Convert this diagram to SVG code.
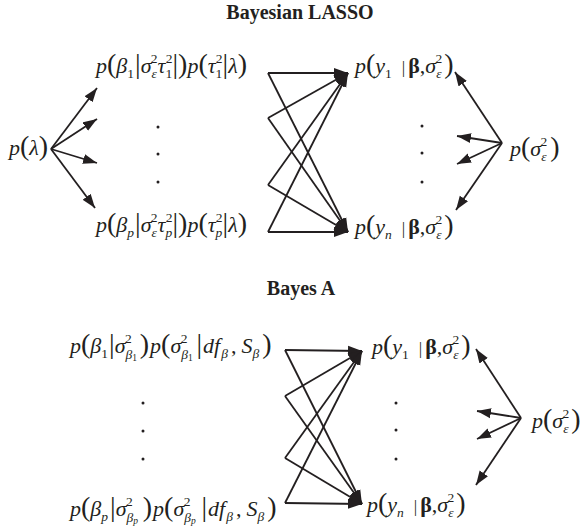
<svg xmlns="http://www.w3.org/2000/svg" width="583" height="530" viewBox="0 0 583 530">
<defs>
<marker id="ah" markerUnits="userSpaceOnUse" markerWidth="15" markerHeight="11" refX="14" refY="5.5" orient="auto"><path d="M0,0.5 L14,5.5 L0,10.5 z" fill="#231f20"/></marker>
</defs>
<style>
.m{font-family:"Liberation Serif","Times New Roman",serif;font-size:22px;fill:#231f20}
.i{font-style:italic}
.s{font-size:13.5px}
.ss{font-size:9.5px}
.P{font-size:28px;font-style:normal}
.bar{font-size:17px}
.b{font-weight:bold}
.t{font-family:"Liberation Serif","Times New Roman",serif;font-weight:bold;font-size:20px;text-anchor:middle;fill:#231f20}
.c line{stroke:#231f20;stroke-width:1.8;marker-end:url(#ah)}
.d circle{fill:#231f20}
</style>
<rect width="583" height="530" fill="#ffffff"/>
<g id="titles">
<text class="t" x="300" y="19">Bayesian LASSO</text>
<text class="t" x="301" y="295">Bayes A</text>
</g>
<g id="lasso-lambda"><text class="m" x="9" y="155"><tspan class="i">p</tspan><tspan class="P">(</tspan><tspan class="i">λ</tspan><tspan class="P">)</tspan></text></g>
<g id="lasso-beta1"><text class="m" x="96" y="73"><tspan class="i">p</tspan><tspan class="P">(</tspan><tspan class="i">β</tspan><tspan class="s" dy="5">1</tspan><tspan class="P" dx="1" dy="-5">|</tspan><tspan class="i">σ</tspan><tspan class="s i" dy="5">ε</tspan><tspan class="s" dx="-6" dy="-15">2</tspan><tspan class="i" dy="10">τ</tspan><tspan class="s" dy="5">1</tspan><tspan class="s" dx="-6.5" dy="-15">2</tspan><tspan class="P" dy="10">|</tspan><tspan class="P">)</tspan><tspan class="i">p</tspan><tspan class="P">(</tspan><tspan class="i">τ</tspan><tspan class="s" dy="5">1</tspan><tspan class="s" dx="-6.5" dy="-15">2</tspan><tspan class="P" dy="10">|</tspan><tspan class="i">λ</tspan><tspan class="P">)</tspan></text></g>
<g id="lasso-betap"><text class="m" x="96" y="232"><tspan class="i">p</tspan><tspan class="P">(</tspan><tspan class="i">β</tspan><tspan class="s i" dy="5">p</tspan><tspan class="P" dx="1" dy="-5">|</tspan><tspan class="i">σ</tspan><tspan class="s i" dy="5">ε</tspan><tspan class="s" dx="-6" dy="-15">2</tspan><tspan class="i" dy="10">τ</tspan><tspan class="s i" dy="5">p</tspan><tspan class="s" dx="-6.5" dy="-15">2</tspan><tspan class="P" dy="10">|</tspan><tspan class="P">)</tspan><tspan class="i">p</tspan><tspan class="P">(</tspan><tspan class="i">τ</tspan><tspan class="s i" dy="5">p</tspan><tspan class="s" dx="-6.5" dy="-15">2</tspan><tspan class="P" dy="10">|</tspan><tspan class="i">λ</tspan><tspan class="P">)</tspan></text></g>
<g id="lasso-y1"><text class="m" x="355" y="73"><tspan class="i">p</tspan><tspan class="P">(</tspan><tspan class="i">y</tspan><tspan class="s" dy="5">1</tspan><tspan class="bar" dx="10" dy="-5">|</tspan><tspan class="b" dx="3">β</tspan><tspan>,</tspan><tspan class="i">σ</tspan><tspan class="s i" dy="5">ε</tspan><tspan class="s" dx="-6" dy="-15">2</tspan><tspan class="P" dx="2" dy="10">)</tspan></text></g>
<g id="lasso-yn"><text class="m" x="355" y="234"><tspan class="i">p</tspan><tspan class="P">(</tspan><tspan class="i">y</tspan><tspan class="s i" dy="5">n</tspan><tspan class="bar" dx="10" dy="-5">|</tspan><tspan class="b" dx="3">β</tspan><tspan>,</tspan><tspan class="i">σ</tspan><tspan class="s i" dy="5">ε</tspan><tspan class="s" dx="-6" dy="-15">2</tspan><tspan class="P" dx="2" dy="10">)</tspan></text></g>
<g id="lasso-sigma"><text class="m" x="510" y="156"><tspan class="i">p</tspan><tspan class="P">(</tspan><tspan class="i">σ</tspan><tspan class="s i" dy="5">ε</tspan><tspan class="s" dx="-6" dy="-15">2</tspan><tspan class="P" dx="3" dy="10">)</tspan></text></g>
<g id="bayesa-beta1"><text class="m" x="70" y="353"><tspan class="i">p</tspan><tspan class="P">(</tspan><tspan class="i">β</tspan><tspan class="s" dy="5">1</tspan><tspan class="P" dx="1" dy="-5">|</tspan><tspan class="i">σ</tspan><tspan class="s i" dy="6">β</tspan><tspan class="ss" dy="2">1</tspan><tspan class="s" dx="-12" dy="-18">2</tspan><tspan class="P" dx="8" dy="10">)</tspan><tspan class="i" dx="1">p</tspan><tspan class="P">(</tspan><tspan class="i">σ</tspan><tspan class="s i" dy="6">β</tspan><tspan class="ss" dy="2">1</tspan><tspan class="s" dx="-12" dy="-18">2</tspan><tspan class="P" dx="9" dy="10">|</tspan><tspan class="i" dx="1">df</tspan><tspan class="s i" dx="1" dy="5">β</tspan><tspan dx="3" dy="-5">,</tspan><tspan class="i" dx="5">S</tspan><tspan class="s i" dy="5">β</tspan><tspan class="P" dx="3" dy="-5">)</tspan></text></g>
<g id="bayesa-betap"><text class="m" x="70" y="516"><tspan class="i">p</tspan><tspan class="P">(</tspan><tspan class="i">β</tspan><tspan class="s i" dy="5">p</tspan><tspan class="P" dx="2" dy="-5">|</tspan><tspan class="i">σ</tspan><tspan class="s i" dy="6">β</tspan><tspan class="ss i" dy="2">p</tspan><tspan class="s" dx="-12" dy="-18">2</tspan><tspan class="P" dx="10" dy="10">)</tspan><tspan class="i" dx="1">p</tspan><tspan class="P">(</tspan><tspan class="i">σ</tspan><tspan class="s i" dy="6">β</tspan><tspan class="ss i" dy="2">p</tspan><tspan class="s" dx="-12" dy="-18">2</tspan><tspan class="P" dx="11" dy="10">|</tspan><tspan class="i" dx="1">df</tspan><tspan class="s i" dx="1" dy="5">β</tspan><tspan dx="3" dy="-5">,</tspan><tspan class="i" dx="5">S</tspan><tspan class="s i" dy="5">β</tspan><tspan class="P" dx="3" dy="-5">)</tspan></text></g>
<g id="bayesa-y1"><text class="m" x="372" y="354"><tspan class="i">p</tspan><tspan class="P">(</tspan><tspan class="i">y</tspan><tspan class="s" dy="5">1</tspan><tspan class="bar" dx="10" dy="-5">|</tspan><tspan class="b" dx="3">β</tspan><tspan>,</tspan><tspan class="i">σ</tspan><tspan class="s i" dy="5">ε</tspan><tspan class="s" dx="-6" dy="-15">2</tspan><tspan class="P" dx="2" dy="10">)</tspan></text></g>
<g id="bayesa-yn"><text class="m" x="367" y="512"><tspan class="i">p</tspan><tspan class="P">(</tspan><tspan class="i">y</tspan><tspan class="s i" dy="5">n</tspan><tspan class="bar" dx="10" dy="-5">|</tspan><tspan class="b" dx="3">β</tspan><tspan>,</tspan><tspan class="i">σ</tspan><tspan class="s i" dy="5">ε</tspan><tspan class="s" dx="-6" dy="-15">2</tspan><tspan class="P" dx="2" dy="10">)</tspan></text></g>
<g id="bayesa-sigma"><text class="m" x="532" y="428"><tspan class="i">p</tspan><tspan class="P">(</tspan><tspan class="i">σ</tspan><tspan class="s i" dy="5">ε</tspan><tspan class="s" dx="-6" dy="-15">2</tspan><tspan class="P" dx="2" dy="10">)</tspan></text></g>
<g id="ellipses" class="d">
<circle cx="158" cy="127" r="1.5"/><circle cx="158" cy="154" r="1.5"/><circle cx="158" cy="182" r="1.5"/>
<circle cx="422" cy="126" r="1.5"/><circle cx="422" cy="153" r="1.5"/><circle cx="422" cy="182" r="1.5"/>
<circle cx="143" cy="403" r="1.5"/><circle cx="143" cy="431" r="1.5"/><circle cx="143" cy="459" r="1.5"/>
<circle cx="396" cy="403" r="1.5"/><circle cx="396" cy="430" r="1.5"/><circle cx="396" cy="459" r="1.5"/>
</g>
<g id="connectors" class="c">
<line x1="51" y1="149" x2="97" y2="88"/>
<line x1="51" y1="149" x2="97" y2="119"/>
<line x1="51" y1="149" x2="97" y2="163"/>
<line x1="51" y1="149" x2="95" y2="208"/>
<line x1="268" y1="73" x2="348" y2="73"/>
<line x1="268" y1="73" x2="348" y2="232"/>
<line x1="268" y1="118" x2="348" y2="73"/>
<line x1="268" y1="118" x2="348" y2="232"/>
<line x1="268" y1="185" x2="348" y2="73"/>
<line x1="268" y1="185" x2="348" y2="232"/>
<line x1="268" y1="232" x2="348" y2="73"/>
<line x1="268" y1="232" x2="348" y2="232"/>
<line x1="502" y1="143" x2="455" y2="72"/>
<line x1="502" y1="143" x2="457" y2="136"/>
<line x1="502" y1="143" x2="457" y2="164"/>
<line x1="502" y1="143" x2="456" y2="210"/>
<line x1="285" y1="350" x2="362" y2="351"/>
<line x1="285" y1="350" x2="362" y2="504"/>
<line x1="285" y1="396" x2="362" y2="351"/>
<line x1="285" y1="396" x2="362" y2="504"/>
<line x1="285" y1="458" x2="362" y2="351"/>
<line x1="285" y1="458" x2="362" y2="504"/>
<line x1="285" y1="503" x2="362" y2="351"/>
<line x1="285" y1="503" x2="362" y2="504"/>
<line x1="521" y1="418" x2="476" y2="349"/>
<line x1="521" y1="418" x2="477" y2="411"/>
<line x1="521" y1="418" x2="477" y2="439"/>
<line x1="521" y1="418" x2="476" y2="485"/>
</g>
</svg>
